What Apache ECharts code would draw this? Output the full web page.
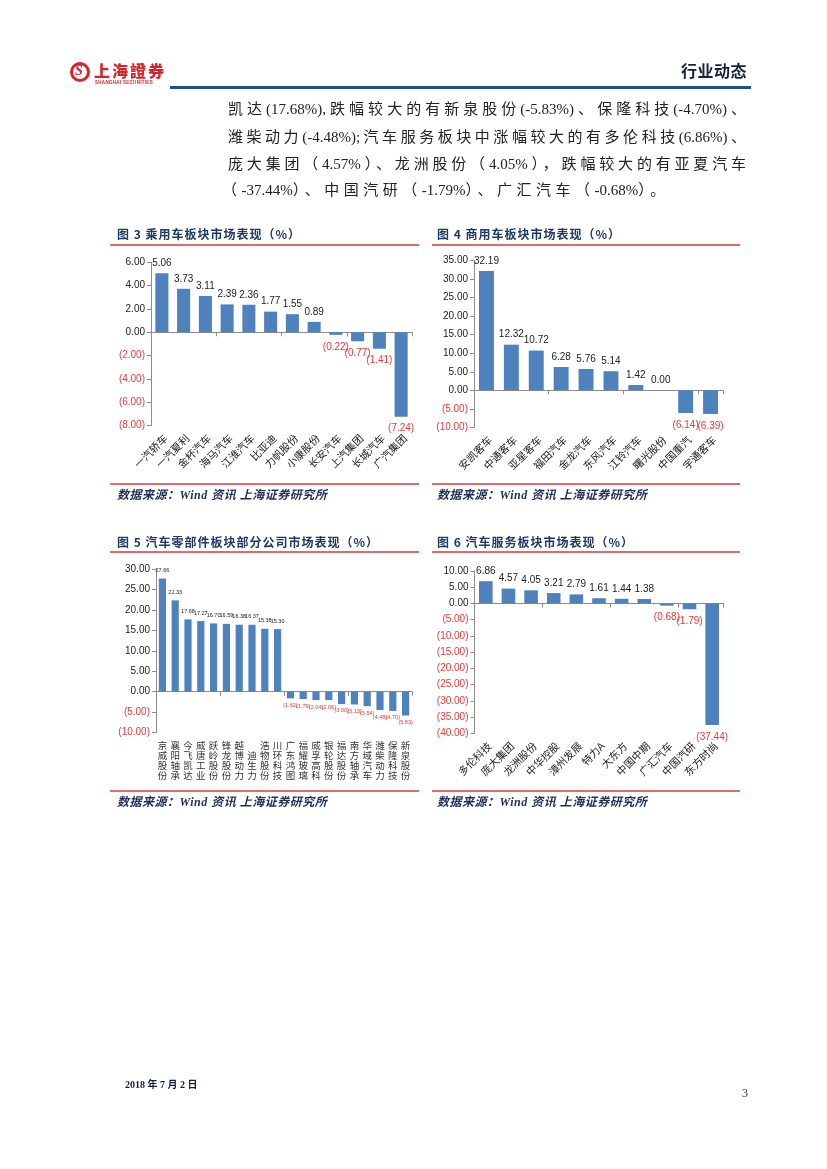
<!DOCTYPE html>
<html><head><meta charset="utf-8">
<script src="https://cdn.jsdelivr.net/npm/echarts@6/dist/echarts.min.js"></script>
<style>
html,body{margin:0;padding:0;background:#fff;}
#page{position:relative;width:827px;height:1169px;overflow:hidden;background:#fff;}
#chart{position:absolute;left:0;top:0;width:827px;height:1169px;}
.t{position:absolute;white-space:nowrap;}
.para{position:absolute;left:228px;width:518px;font-family:"Liberation Serif","Noto Sans CJK SC",serif;font-size:15px;color:#222;line-height:20px;white-space:nowrap;}
.just{text-align:justify;text-align-last:justify;}
.cs{letter-spacing:4.5px;}
.title{position:absolute;font-family:"Noto Sans CJK SC",sans-serif;font-weight:700;font-size:12px;letter-spacing:1px;color:#1F3864;line-height:16px;}
.src{position:absolute;font-family:"Liberation Serif","Noto Sans CJK SC",serif;font-weight:700;font-style:italic;font-size:12px;letter-spacing:0.5px;color:#1F2F5A;line-height:16px;}
.rl{position:absolute;height:2px;background:#E4696B;}
</style></head>
<body><div id="page">
<div id="chart"></div>

<!-- header -->
<div class="t" style="left:70px;top:62px;width:20px;height:20px;border:3px solid #D8232A;border-radius:50%;box-sizing:border-box;"></div>
<div class="t" style="left:75px;top:63px;font-family:'Liberation Serif',serif;font-weight:700;font-style:italic;font-size:14px;color:#D8232A;line-height:16px;">S</div>
<div class="t" style="left:94px;top:61px;font-family:'Noto Sans CJK TC','Noto Sans CJK SC',sans-serif;font-weight:900;font-size:16px;letter-spacing:2px;color:#D8232A;line-height:18px;">上海證券</div>
<div class="t" style="left:95px;top:80px;font-family:'Liberation Sans',sans-serif;font-weight:700;font-size:4.5px;letter-spacing:0.3px;color:#D8232A;line-height:6px;">SHANGHAI SECURITIES</div>
<div class="t" style="left:681px;top:60px;font-family:'Noto Sans CJK SC',sans-serif;font-weight:700;font-size:16px;letter-spacing:0.5px;color:#15203A;line-height:20px;">行业动态</div>
<div class="t" style="left:170px;top:86px;width:581px;height:3px;background:#1F4E8C;"></div>

<!-- paragraph -->
<div class="para just" style="top:99px;">凯达(17.68%),跌幅较大的有新泉股份(-5.83%)、保隆科技(-4.70%)、</div>
<div class="para just" style="top:127px;">潍柴动力(-4.48%);汽车服务板块中涨幅较大的有多伦科技(6.86%)、</div>
<div class="para just" style="top:154px;">庞大集团（4.57%）、龙洲股份（4.05%），跌幅较大的有亚夏汽车</div>
<div class="para" style="top:180px;left:222px;"><span class="cs">（</span>-37.44%<span class="cs">）、中国汽研（</span>-1.79%<span class="cs">）、广汇汽车（</span>-0.68%<span class="cs">）。</span></div>

<!-- chart titles and rules -->
<div class="title" style="left:117px;top:226px;">图 3 乘用车板块市场表现（%）</div>
<div class="title" style="left:437px;top:226px;">图 4 商用车板块市场表现（%）</div>
<div class="rl" style="left:110px;top:244px;width:309px;"></div>
<div class="rl" style="left:432px;top:244px;width:308px;"></div>
<div class="rl" style="left:110px;top:483px;width:309px;"></div>
<div class="rl" style="left:432px;top:483px;width:308px;"></div>
<div class="src" style="left:117px;top:487px;">数据来源：Wind 资讯 上海证券研究所</div>
<div class="src" style="left:437px;top:487px;">数据来源：Wind 资讯 上海证券研究所</div>

<div class="title" style="left:117px;top:534px;">图 5 汽车零部件板块部分公司市场表现（%）</div>
<div class="title" style="left:437px;top:534px;">图 6 汽车服务板块市场表现（%）</div>
<div class="rl" style="left:110px;top:551px;width:309px;"></div>
<div class="rl" style="left:432px;top:551px;width:308px;"></div>
<div class="rl" style="left:110px;top:790px;width:309px;"></div>
<div class="rl" style="left:432px;top:790px;width:308px;"></div>
<div class="src" style="left:117px;top:794px;">数据来源：Wind 资讯 上海证券研究所</div>
<div class="src" style="left:437px;top:794px;">数据来源：Wind 资讯 上海证券研究所</div>

<!-- footer -->
<div class="t" style="left:125px;top:1078px;font-family:'Liberation Serif','Noto Sans CJK SC',serif;font-weight:700;font-size:10px;color:#15203A;line-height:14px;">2018 年 7 月 2 日</div>
<div class="t" style="left:742px;top:1086px;font-family:'Liberation Serif',serif;font-size:12px;color:#333;line-height:14px;">3</div>
</div>

<script>
// ---- data ----
const cat3 = ['一汽轿车','一汽夏利','金杯汽车','海马汽车','江淮汽车','比亚迪','力帆股份','小康股份','长安汽车','上汽集团','长城汽车','广汽集团'];
const val3 = [5.06,3.73,3.11,2.39,2.36,1.77,1.55,0.89,-0.22,-0.77,-1.41,-7.24];
const cat4 = ['安凯客车','中通客车','亚星客车','福田汽车','金龙汽车','东风汽车','江铃汽车','曙光股份','中国重汽','宇通客车'];
const val4 = [32.19,12.32,10.72,6.28,5.76,5.14,1.42,0.00,-6.14,-6.39];
const cat5 = ['京威股份','襄阳轴承','今飞凯达','威唐工业','跃岭股份','锋龙股份','越博动力','迪生力','浩物股份','川环科技','广东鸿图','福耀玻璃','威孚高科','银轮股份','福达股份','南方轴承','华域汽车','潍柴动力','保隆科技','新泉股份'];
const val5 = [27.66,22.33,17.68,17.27,16.70,16.59,16.38,16.37,15.38,15.30,-1.62,-1.79,-2.04,-2.06,-3.00,-3.13,-3.54,-4.48,-4.70,-5.83];
const cat6 = ['多伦科技','庞大集团','龙洲股份','中华控股','漳州发展','特力A','大东方','中国中期','广汇汽车','中国汽研','东方时尚'];
const val6 = [6.86,4.57,4.05,3.21,2.79,1.61,1.44,1.38,-0.68,-1.79,-37.44];
const yRange3 = {min:-8, max:6, interval:2};
const yRange4 = {min:-10, max:35, interval:5};
const yRange5 = {min:-10, max:30, interval:5};
const yRange6 = {min:-40, max:10, interval:5};

// ---- styles ----
const RED = '#E8393A';
const BLUE = '#4F81BD';
const AX = '#8C8C8C';
const TXT = '#222';
const NUM = '"Liberation Sans",sans-serif';
const CJK = '"Noto Sans CJK SC",sans-serif';
function fmtNum(v){ return v < 0 ? '(' + Math.abs(v).toFixed(2) + ')' : v.toFixed(2); }

const grids = [], xAxes = [], yAxes = [], series = [];
function addChart(cats, vals, range, cfg){
  const gi = grids.length;
  grids.push({left:cfg.left, top:cfg.top, width:cfg.width, height:cfg.height, containLabel:false});
  const xi = xAxes.length;
  xAxes.push({type:'category', gridIndex:gi, data:cats, position:'bottom',
    axisLine:{show:true, onZero:true, lineStyle:{color:AX, width:1}},
    axisTick:{show:true, inside:false, length:4, lineStyle:{color:AX}},
    axisLabel:{show:false}, splitLine:{show:false}});
  xAxes.push({type:'category', gridIndex:gi, data:cats, position:'bottom',
    axisLine:{show:false, onZero:false}, axisTick:{show:false},
    axisLabel:cfg.xLabel, splitLine:{show:false}});
  yAxes.push({type:'value', gridIndex:gi, min:range.min, max:range.max, interval:range.interval,
    axisLine:{show:true, lineStyle:{color:AX}},
    axisTick:{show:true, length:4, lineStyle:{color:AX}},
    splitLine:{show:false},
    axisLabel:{margin:6, formatter: v => (v < 0 ? '{r|' : '{b|') + fmtNum(v) + '}',
      rich:{r:{color:RED, fontSize:cfg.yFont, fontFamily:NUM}, b:{color:TXT, fontSize:cfg.yFont, fontFamily:NUM}}}});
  series.push({type:'bar', xAxisIndex:xi, yAxisIndex:gi, barWidth:cfg.barWidth, silent:true,
    itemStyle:{color:BLUE},
    label:{show:true, fontSize:cfg.dFont, fontFamily:NUM, formatter:p => fmtNum(p.value)},
    data: vals.map(v => ({value:v, label:{position: v < 0 ? 'bottom' : 'top', distance: v < 0 ? cfg.negDist : cfg.posDist, color: v < 0 ? RED : TXT}}))});
}

const rotLabel = {interval:0, rotate:45, fontSize:10.5, fontFamily:CJK, color:TXT, margin:7, verticalAlign:'top'};
addChart(cat3, val3, yRange3, {left:151, top:262.3, width:261, height:163.3, barWidth:'60%', yFont:10, dFont:10, posDist:5, negDist:7, xLabel:rotLabel});
addChart(cat4, val4, yRange4, {left:474, top:260.7, width:249, height:166.6, barWidth:'60%', yFont:10, dFont:10, posDist:5, negDist:7, xLabel:rotLabel});
addChart(cat5, val5, yRange5, {left:156, top:569, width:256, height:163.6, barWidth:'56%', yFont:10, dFont:5.5, posDist:5, negDist:4,
  xLabel:{interval:0, rotate:0, fontSize:9.5, lineHeight:10, fontFamily:CJK, color:'#333', margin:8,
    formatter: s => { const c = s.split(''); while (c.length < 4) c.unshift(' '); return c.join('\n'); }}});
addChart(cat6, val6, yRange6, {left:474.5, top:571, width:249, height:162.3, barWidth:'60%', yFont:10, dFont:10, posDist:5, negDist:7, xLabel:rotLabel});

const chart = echarts.init(document.getElementById('chart'), null, {renderer:'canvas'});
chart.setOption({animation:false, backgroundColor:'transparent', grid:grids, xAxis:xAxes, yAxis:yAxes, series:series});
</script>
</body></html>
